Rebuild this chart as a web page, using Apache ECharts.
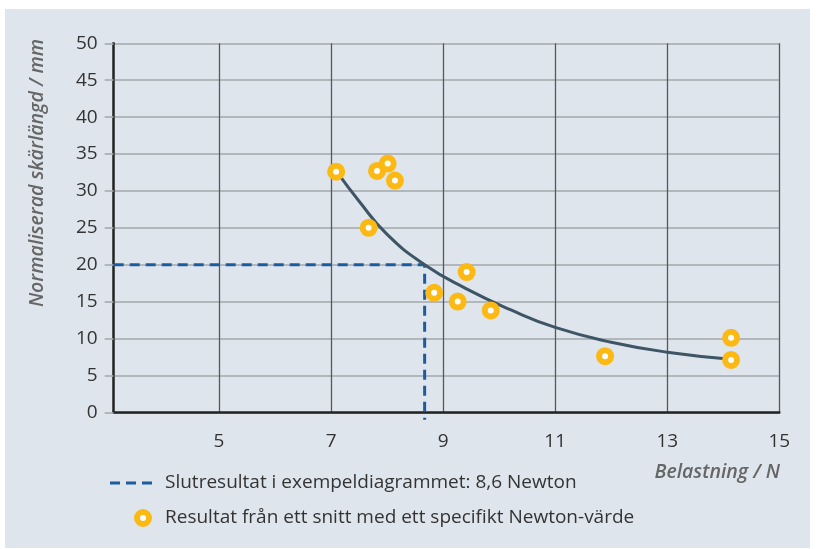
<!DOCTYPE html>
<html>
<head>
<meta charset="utf-8">
<script src="https://cdn.jsdelivr.net/npm/echarts@6/dist/echarts.min.js"></script>
<style>
  html, body { margin: 0; padding: 0; background: #ffffff; width: 820px; height: 549px; overflow: hidden; }
  #chart { position: absolute; left: 5px; top: 9px; width: 805px; height: 539px; background: #dfe5ec; }
</style>
</head>
<body>
<div id="chart"></div>
<script>
// ---- data ----
const xTickValues = [5, 7, 9, 11, 13, 15];
const yTicks = [0, 5, 10, 15, 20, 25, 30, 35, 40, 45, 50];

// individual measurement points (Belastning N, skärlängd mm)
const pointX = [7.09, 7.67, 7.82, 8.01, 8.14, 9.42, 8.84, 9.26, 9.85, 11.89, 14.14, 14.14];
const pointY = [32.6, 25.0, 32.7, 33.7, 31.4, 19.0, 16.2, 15.0, 13.8, 7.6, 10.1, 7.1];

// fitted curve
const curveX = [7.12, 7.50, 8.00, 8.67, 9.40, 10.20, 11.00, 12.00, 13.00, 14.14];
const curveY = [32.4, 28.6, 24.1, 20.0, 16.8, 13.9, 11.5, 9.5, 8.15, 7.2];

// result read-off (dashed guide)
const resultX = [3.12, 8.67, 8.67];
const resultY = [20, 20, -1.0];

const xName = 'Belastning / N';
const yName = 'Normaliserad skärlängd / mm';
const legendLine = 'Slutresultat i exempeldiagrammet: 8,6 Newton';
const legendDot = 'Resultat från ett snitt med ett specifikt Newton-värde';

const FONT = '"Open Sans", sans-serif';
const BLUE = '#1b5c9e';
const YELLOW = '#fdb913';

const chart = echarts.init(document.getElementById('chart'), null, { renderer: 'canvas' });

const option = {
  animation: false,
  grid: { left: 108.7, right: 30.7, top: 34.3, bottom: 135.7, containLabel: false },
  xAxis: {
    type: 'value',
    min: 3.12,
    max: 15,
    axisLine: { show: true, onZero: false, lineStyle: { color: '#222', width: 2.5 } },
    axisTick: { show: false, customValues: xTickValues },
    axisLabel: { customValues: xTickValues, color: '#333', fontSize: 19, fontFamily: FONT, margin: 20 },
    splitLine: { show: true, lineStyle: { color: '#55585c', width: 1.3 } }
  },
  yAxis: {
    type: 'value',
    min: 0,
    max: 50,
    interval: 5,
    axisLine: { show: true, onZero: false, lineStyle: { color: '#222', width: 2.5 } },
    axisTick: { show: true, length: 9, lineStyle: { color: '#a3a7ac', width: 1.5 } },
    axisLabel: { color: '#333', fontSize: 19, fontFamily: FONT, margin: 16 },
    splitLine: { show: true, lineStyle: { color: '#a3a7ac', width: 1.5 } }
  },
  series: [
    {
      type: 'line',
      data: resultX.map((x, i) => [x, resultY[i]]),
      clip: false,
      symbol: 'none',
      lineStyle: { color: BLUE, width: 3, type: [10, 6] },
      z: 3
    },
    {
      type: 'line',
      data: curveX.map((x, i) => [x, curveY[i]]),
      smooth: 0.5,
      symbol: 'none',
      lineStyle: { color: '#3e5566', width: 3 },
      z: 4
    },
    {
      type: 'scatter',
      data: pointX.map((x, i) => [x, pointY[i]]),
      symbol: 'circle',
      symbolSize: 12,
      itemStyle: { color: '#ffffff', borderColor: YELLOW, borderWidth: 6, opacity: 1 },
      z: 5
    }
  ],
  graphic: [
    {
      type: 'text',
      x: 32, y: 164,
      rotation: Math.PI / 2,
      style: {
        text: yName, fill: '#666', font: 'italic 600 19.5px ' + FONT,
        align: 'center', verticalAlign: 'middle'
      }
    },
    {
      type: 'text',
      x: 775, y: 463,
      style: {
        text: xName, fill: '#666', font: 'italic 600 19.5px ' + FONT,
        align: 'right', verticalAlign: 'middle'
      }
    },
    {
      type: 'line',
      shape: { x1: 105, y1: 474, x2: 148, y2: 474 },
      style: { stroke: BLUE, lineWidth: 3, lineDash: [10, 6] }
    },
    {
      type: 'text',
      x: 160, y: 474,
      style: { text: legendLine, fill: '#333', font: '19px ' + FONT, align: 'left', verticalAlign: 'middle' }
    },
    {
      type: 'circle',
      shape: { cx: 138, cy: 509, r: 6 },
      style: { fill: '#ffffff', stroke: YELLOW, lineWidth: 6 }
    },
    {
      type: 'text',
      x: 160, y: 509,
      style: { text: legendDot, fill: '#333', font: '19px ' + FONT, align: 'left', verticalAlign: 'middle' }
    }
  ]
};

chart.setOption(option);
</script>
</body>
</html>
